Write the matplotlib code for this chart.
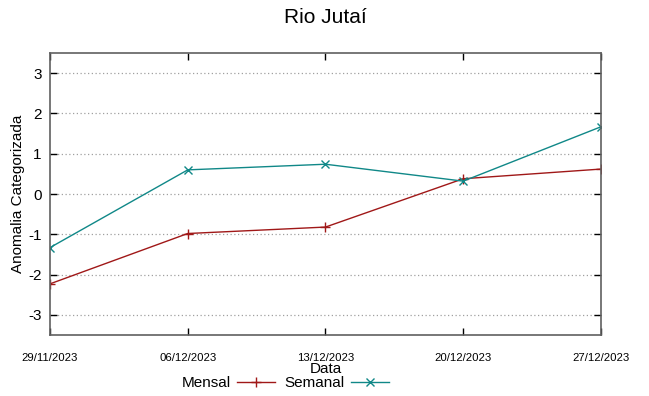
import matplotlib
matplotlib.use("Agg")
import matplotlib.pyplot as plt

plt.rcParams["font.family"] = ["Liberation Sans", "DejaVu Sans"]

datas = ["29/11/2023", "06/12/2023", "13/12/2023", "20/12/2023", "27/12/2023"]
mensal = [-2.23, -0.98, -0.82, 0.38, 0.62]
semanal = [-1.33, 0.60, 0.74, 0.32, 1.67]
yticks = [-3, -2, -1, 0, 1, 2, 3]

fig = plt.figure(figsize=(6.49, 3.96), dpi=100)
ax = fig.add_axes([0.077, 0.154, 0.849, 0.712])

x = list(range(len(datas)))
ax.plot(x, mensal, color="#a01818", lw=1.0, marker="+", ms=6.5,
        mew=1.0, label="Mensal")
ax.plot(x, semanal, color="#108888", lw=1.0, marker="x", ms=5.5,
        mew=1.0, label="Semanal")

ax.set_xlim(0, 4)
ax.set_ylim(-3.5, 3.5)
ax.set_xticks(x)
ax.set_xticklabels(datas, fontsize=8.2)
ax.set_yticks(yticks)
ax.set_yticklabels([str(v) for v in yticks], fontsize=11)
ax.tick_params(direction="in", top=True, right=True, length=5,
               width=1, color="black")
ax.tick_params(axis="x", pad=13)
ax.tick_params(axis="y", pad=6)
ax.yaxis.grid(True, linestyle=(0, (1, 2)), color="#a0a0a0", lw=0.9)
ax.set_axisbelow(True)
for s in ax.spines.values():
    s.set_color("#606060")
    s.set_linewidth(1.2)

ax.set_title("Rio Jutaí", fontsize=15, pad=22)
ax.set_ylabel("Anomalia Categorizada", fontsize=11, labelpad=2)
ax.set_xlabel("Data", fontsize=11, labelpad=-1)

fig.legend(loc="center", bbox_to_anchor=(0.44, 0.032), ncol=2,
           frameon=False, markerfirst=False, fontsize=11,
           handlelength=2.5, columnspacing=0.6, handletextpad=0.4,
           borderpad=0)

fig.savefig("out.png", dpi=100)
